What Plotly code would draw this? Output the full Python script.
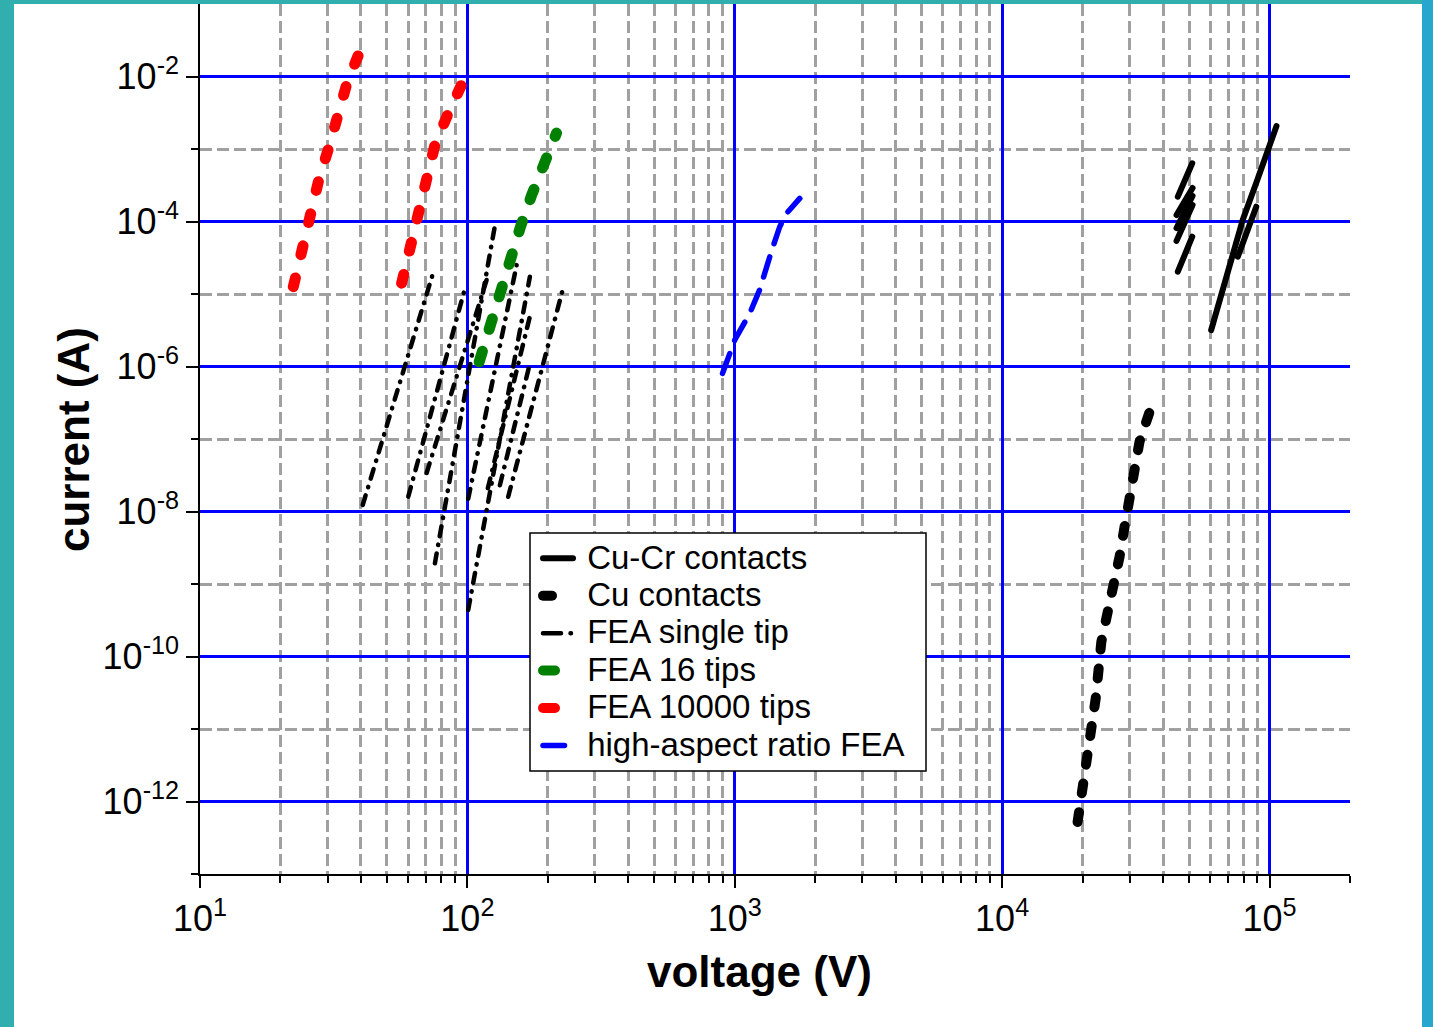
import math
import plotly.graph_objects as go

FONT = "Liberation Sans, Arial, Helvetica, sans-serif"

# ---------------- data: voltage (V) / current (A) ----------------
# Cu-Cr contacts (several measured curves)
cucr_v = [
    [60500, 70800, 79400, 89100, 100000, 106200],
    [76100, 89200],
    [45400, 51400],
    [44900, 51540],
    [44900, 51540],
    [44900, 51540],
    [45400, 51400],
]
cucr_i = [
    [3.18e-6, 2.65e-5, 1.05e-4, 3.37e-4, 1.20e-3, 2.07e-3],
    [3.27e-5, 1.60e-4],
    [2.20e-4, 6.35e-4],
    [1.23e-4, 2.90e-4],
    [8.10e-5, 2.25e-4],
    [5.40e-5, 1.69e-4],
    [2.03e-5, 6.17e-5],
]

# Cu contacts
cu_v = [19150, 20950, 22390, 23500, 24890, 25960, 27490, 28700, 29970, 30830, 32650, 36540]
cu_i = [5.21e-13, 4.15e-12, 2.65e-11, 1.60e-10, 3.94e-10, 9.68e-10, 2.38e-9, 6.17e-9,
        1.53e-8, 3.73e-8, 9.18e-8, 3.14e-7]

# FEA single tip (one curve per tip)
single_v = [
    [40.6, 74.5],
    [60.1, 98.7],
    [70.4, 118.0],
    [75.6, 127.5],
    [100.7, 152.8],
    [100.7, 171.3],
    [119.3, 171.3],
    [142.1, 228.0],
    [132.3, 171.3],
]
single_i = [
    [1.23e-8, 1.97e-5],
    [1.60e-8, 1.33e-5],
    [3.40e-8, 1.56e-5],
    [1.93e-9, 9.90e-5],
    [1.50e-8, 2.50e-5],
    [4.40e-10, 1.73e-5],
    [2.10e-8, 4.90e-6],
    [1.60e-8, 1.20e-5],
    [2.30e-8, 1.10e-6],
]

# FEA 16 tips
fea16_v = [110.7, 123.1, 133, 145, 158, 174, 192, 215.5]
fea16_i = [1.16e-6, 4.38e-6, 1.14e-5, 3.27e-5, 8.47e-5, 2.32e-4, 6.35e-4, 1.66e-3]

# FEA 10000 tips (two arrays)
fea10k_v = [
    [22.33, 24.48, 25.93, 27.86, 30.35, 32.43, 35.54, 40.78],
    [56.76, 62.4, 66.05, 71.38, 75.6, 84.8, 99.3],
]
fea10k_i = [
    [1.26e-5, 5.26e-5, 1.41e-4, 3.86e-4, 1.06e-3, 2.94e-3, 8.32e-3, 2.87e-2],
    [1.41e-5, 5.68e-5, 1.57e-4, 4.48e-4, 1.14e-3, 3.10e-3, 1.08e-2],
]

# high-aspect ratio FEA
har_v = [900, 1000, 1138, 1239, 1370, 1473, 1560, 1750]
har_i = [8.05e-7, 2.32e-6, 5.42e-6, 1.14e-5, 3.83e-5, 8.47e-5, 1.29e-4, 2.08e-4]

# series labels
series_names = ["Cu-Cr contacts", "Cu contacts", "FEA single tip",
                "FEA 16 tips", "FEA 10000 tips", "high-aspect ratio FEA"]

# axis ticks
x_major = [1e1, 1e2, 1e3, 1e4, 1e5]
x_major_text = ["10<sup>1</sup>", "10<sup>2</sup>", "10<sup>3</sup>", "10<sup>4</sup>", "10<sup>5</sup>"]
y_major = [1e-12, 1e-10, 1e-8, 1e-6, 1e-4, 1e-2]
y_major_text = ["10<sup>-12</sup>", "10<sup>-10</sup>", "10<sup>-8</sup>",
                "10<sup>-6</sup>", "10<sup>-4</sup>", "10<sup>-2</sup>"]
y_minor = [1e-13, 1e-11, 1e-9, 1e-7, 1e-5, 1e-3]
x_minor = [m * 10 ** e for e in range(1, 5) for m in range(2, 10)] + [2e5]


def joined(xs_list, ys_list):
    """Concatenate several curves into one trace, separated by gaps."""
    xs, ys = [], []
    for xv, yv in zip(xs_list, ys_list):
        xs += list(xv) + [None]
        ys += list(yv) + [None]
    return xs[:-1], ys[:-1]


# line styles: (colour, width, dash on the plot, dash of the legend sample)
styles = [
    ("black", 6, "solid", "solid"),
    ("black", 10, "10px,19px", "9px,60px"),
    ("black", 4.5, "10px,8.5px,0.5px,8.5px", "18px,9.5px,0.5px,60px"),
    ("#008000", 11, "11px,23px", "12px,60px"),
    ("#ff0000", 11, "9px,24px", "12px,60px"),
    ("#0000ff", 5.5, "21px,14px", "21.5px,60px"),
]

curves = [
    joined(cucr_v, cucr_i),
    (cu_v, cu_i),
    joined(single_v, single_i),
    (fea16_v, fea16_i),
    joined(fea10k_v, fea10k_i),
    (har_v, har_i),
]

fig = go.Figure()
for name, (x, y), (col, w, dash, _) in zip(series_names, curves, styles):
    fig.add_trace(go.Scatter(x=x, y=y, mode="lines", name=name, legendgroup=name,
                             showlegend=False, connectgaps=False,
                             line=dict(color=col, width=w, dash=dash)))

# legend entries (samples drawn with a shorter pattern)
for name, (col, w, _, ldash) in zip(series_names, styles):
    fig.add_trace(go.Scatter(x=[None], y=[None], mode="lines", legendgroup=name,
                             name='<span style="font-size:33px">&nbsp;%s</span>' % name,
                             line=dict(color=col, width=w, dash=ldash)))

# plot area: x 200..1350 px, y 4..874 px
L, R, T, B = 200, 1350, 4, 874
W, H = 1433, 1027


def px(xp):
    return (xp - L) / (R - L)


def py(yp):
    return (B - yp) / (B - T)


teal = "#31afaf"
teal_r = "#27a7cd"
shapes = [
    # legend box
    dict(type="rect", xref="paper", yref="paper", x0=px(530), x1=px(926), y0=py(771), y1=py(533),
         fillcolor="white", line=dict(color="black", width=1.5), layer="above"),
    # frame bands
    dict(type="rect", xref="paper", yref="paper", x0=px(0), x1=px(14), y0=py(H), y1=py(0),
         fillcolor=teal, line=dict(width=0), layer="above"),
    dict(type="rect", xref="paper", yref="paper", x0=px(0), x1=px(1422), y0=py(4), y1=py(0),
         fillcolor=teal, line=dict(width=0), layer="above"),
    dict(type="rect", xref="paper", yref="paper", x0=px(1422), x1=px(W), y0=py(H), y1=py(0),
         fillcolor=teal_r, line=dict(width=0), layer="above"),
]

axis_common = dict(
    type="log", showline=True, linecolor="black", linewidth=1.5, mirror=False,
    ticks="outside", ticklen=12, tickwidth=1.5, tickcolor="black",
    showgrid=True, gridcolor="#0000ff", gridwidth=2.5, zeroline=False,
    tickmode="array", tickfont=dict(family=FONT, size=36, color="black"),
)
minor_common = dict(tickmode="array", ticks="outside", ticklen=7, tickwidth=1.5,
                    tickcolor="black", showgrid=True, gridcolor="#a0a0a0",
                    gridwidth=2.5, griddash="12px,5px")

fig.update_layout(
    width=W, height=H,
    margin=dict(l=L, r=W - R, t=T, b=H - B, pad=0),
    paper_bgcolor="white", plot_bgcolor="white",
    font=dict(family=FONT, color="black"),
    xaxis=dict(**axis_common, range=[1, math.log10(2e5)], tickvals=x_major, ticktext=x_major_text,
               minor=dict(**minor_common, tickvals=x_minor)),
    yaxis=dict(**axis_common, range=[-13, -1], tickvals=y_major, ticktext=y_major_text,
               minor=dict(**minor_common, tickvals=y_minor)),
    showlegend=True,
    legend=dict(x=px(538), y=py(534.5), xanchor="left", yanchor="top",
                bgcolor="rgba(0,0,0,0)", borderwidth=0,
                font=dict(family=FONT, size=26.5, color="black"),
                itemwidth=30, tracegroupgap=0, itemclick=False, itemdoubleclick=False),
    shapes=shapes,
    annotations=[
        dict(text="<b>voltage (V)</b>", xref="paper", yref="paper", x=px(759), y=py(972),
             xanchor="center", yanchor="middle", showarrow=False,
             font=dict(family=FONT, size=44, color="black")),
        dict(text="<b>current (A)</b>", xref="paper", yref="paper", x=px(74), y=py(440),
             xanchor="center", yanchor="middle", showarrow=False, textangle=-90,
             font=dict(family=FONT, size=44, color="black")),
    ],
)

# rounded line ends for the measured curves and their legend samples
post = """
var gd = document.getElementById('{plot_id}');
gd.querySelectorAll('.scatterlayer .js-line, .legend .js-line').forEach(function (p) {
  p.style.strokeLinecap = 'round';
});
"""

fig.write_html("out.html", post_script=post)
